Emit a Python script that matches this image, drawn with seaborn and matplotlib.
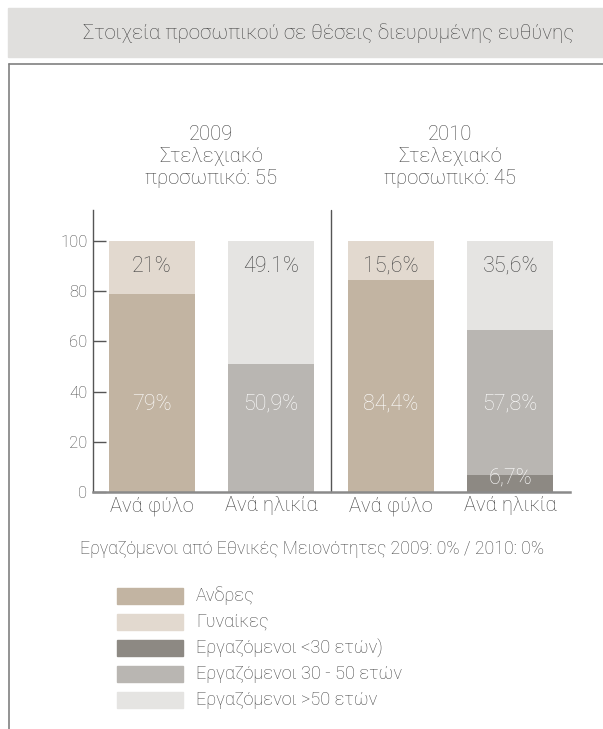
import matplotlib
matplotlib.use("Agg")
import matplotlib.pyplot as plt
from matplotlib.patches import Rectangle
from matplotlib.lines import Line2D
import seaborn as sns
import pandas as pd

# --- data -------------------------------------------------------------
groups = ["2009 φύλο", "2009 ηλικία", "2010 φύλο", "2010 ηλικία"]
tick_labels = ["Ανά φύλο", "Ανά ηλικία", "Ανά φύλο", "Ανά ηλικία"]

men = [79.0, 0.0, 84.4, 0.0]
women = [21.0, 0.0, 15.6, 0.0]
under30 = [0.0, 0.0, 0.0, 6.7]
age30_50 = [0.0, 50.9, 0.0, 57.8]
over50 = [0.0, 49.1, 0.0, 35.6]

series_names = ["Ανδρες", "Γυναίκες", "Εργαζόμενοι <30 ετών)",
                "Εργαζόμενοι 30 - 50 ετών", "Εργαζόμενοι >50 ετών"]
series_colors = ["#c2b4a2", "#e2d9cf", "#8d8983", "#b9b6b2", "#e5e4e2"]

headers = ["2009\nΣτελεχιακό\nπροσωπικό: 55", "2010\nΣτελεχιακό\nπροσωπικό: 45"]
title = "Στοιχεία προσωπικού σε θέσεις διευρυμένης ευθύνης"
footnote = "Εργαζόμενοι από Εθνικές Μειονότητες 2009: 0% / 2010: 0%"

labels_top = [(0, "21%"), (1, "49.1%"), (2, "15,6%"), (3, "35,6%")]
labels_bottom = [(0, "79%"), (1, "50,9%"), (2, "84,4%"), (3, "57,8%")]
label_small = (3, "6,7%")

# --- style ------------------------------------------------------------
sns.set_theme(style="white")
plt.rcParams["font.family"] = ["Roboto", "DejaVu Sans"]
plt.rcParams["font.weight"] = "light"
TXT = "#454545"

W, H = 603, 729
fig = plt.figure(figsize=(W / 100, H / 100), dpi=100)


def fx(px):
    return px / W


def fy(py):
    return 1 - py / H


# title band and frame
fig.patches.append(Rectangle((fx(8), fy(57)), 1 - fx(8), fy(8) - fy(57),
                             transform=fig.transFigure, color="#e0dfdd", zorder=0))
fig.text(fx(329), fy(33), title, ha="center", va="center",
         fontsize=14.8, color=TXT, fontweight="light")
fig.lines.append(Line2D([fx(9), 1], [fy(64), fy(64)], transform=fig.transFigure,
                        color="#808080", lw=1.2))
fig.lines.append(Line2D([fx(9), fx(9)], [fy(64), 0], transform=fig.transFigure,
                        color="#808080", lw=1.2))

ax = fig.add_axes([fx(93), fy(492), fx(570) - fx(93), fy(210) - fy(492)])

df = pd.DataFrame({"group": groups, "men": men, "women": women,
                   "under30": under30, "age30_50": age30_50, "over50": over50})

stack = [("men", 0, [0, 0, 0, 0]),
         ("women", 1, men),
         ("under30", 2, [0, 0, 0, 0]),
         ("age30_50", 3, under30),
         ("over50", 4, [u + m for u, m in zip(under30, age30_50)])]

for col, ci, bottom in stack:
    sns.barplot(data=df, x="group", y=col, bottom=bottom, color=series_colors[ci],
                width=0.72, saturation=1, ax=ax, errorbar=None, linewidth=0)

YTOP = 112.4
ax.set_xlim(-0.49, 3.50)
ax.set_ylim(0, YTOP)
ax.set_xlabel("")
ax.set_ylabel("")
ax.set_yticks([0, 20, 40, 60, 80, 100])
ax.set_xticks(range(4))
ax.set_xticklabels(tick_labels, fontsize=14.5, color=TXT, fontweight="light")
for t in ax.get_yticklabels():
    t.set_fontweight("light")
ax.tick_params(axis="y", direction="in", length=9, width=1, color="#555555",
               labelsize=12, labelcolor=TXT, pad=4, left=True)
ax.tick_params(axis="x", length=0, pad=3)
for side in ["top", "right"]:
    ax.spines[side].set_visible(False)
ax.spines["left"].set_color("#555555")
ax.spines["left"].set_linewidth(1)
ax.spines["bottom"].set_color("#8a8a8a")
ax.spines["bottom"].set_linewidth(1.8)

# separator between the two years
ax.plot([1.5, 1.5], [0, YTOP], color="#555555", lw=1, clip_on=False)

# segment labels
for i, txt in labels_top:
    ax.text(i, 90, txt, ha="center", va="center", fontsize=15.5, color=TXT,
            fontweight="light")
for i, txt in labels_bottom:
    ax.text(i, 35, txt, ha="center", va="center", fontsize=15.5, color="white",
            fontweight="light")
i, txt = label_small
ax.text(i, 5.6, txt, ha="center", va="center", fontsize=15.5, color="white",
        fontweight="light")

# year headers
for x, h in zip([0.5, 2.5], headers):
    ax.text(x, YTOP + 21.5, h, ha="center", va="center", fontsize=14.6,
            color=TXT, linespacing=1.2, fontweight="light")

fig.text(fx(312), fy(549), footnote, ha="center", va="center",
         fontsize=12.7, color=TXT, fontweight="light")

# legend
for k, (name, c) in enumerate(zip(series_names, series_colors)):
    yc = 596 + 26 * k
    fig.patches.append(Rectangle((fx(117), fy(yc + 8)), fx(183) - fx(117),
                                 fy(yc - 8) - fy(yc + 8),
                                 transform=fig.transFigure, color=c))
    fig.text(fx(196), fy(yc), name, ha="left", va="center", fontsize=13.1,
             color=TXT, fontweight="light")

fig.savefig("out.png", dpi=100)
